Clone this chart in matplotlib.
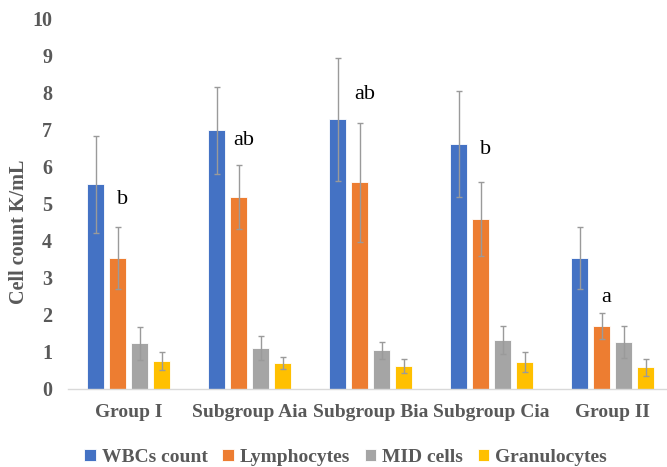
import matplotlib.pyplot as plt
import numpy as np

# groups and measured series (K/mL), with error bar half-widths
groups = ['Group I', 'Subgroup Aia', 'Subgroup Bia', 'Subgroup Cia', 'Group II']
series_names = ['WBCs count', 'Lymphocytes', 'MID cells', 'Granulocytes']
colors = ['#4472C4', '#ED7D31', '#A5A5A5', '#FFC000']

wbc = [5.52, 6.98, 7.28, 6.62, 3.53]
lymph = [3.53, 5.18, 5.58, 4.58, 1.69]
mid = [1.22, 1.09, 1.03, 1.31, 1.26]
gran = [0.75, 0.69, 0.62, 0.72, 0.57]

wbc_err = [1.31, 1.17, 1.66, 1.43, 0.84]
lymph_err = [0.83, 0.86, 1.61, 1.00, 0.35]
mid_err = [0.45, 0.33, 0.24, 0.38, 0.44]
gran_err = [0.24, 0.16, 0.19, 0.26, 0.24]

# significance letters, placed over the lymphocyte bars
letters = ['b', 'ab', 'ab', 'b', 'a']
letter_y = [5.1, 6.7, 7.95, 6.45, 2.45]

values = [wbc, lymph, mid, gran]
errors = [wbc_err, lymph_err, mid_err, gran_err]

text_color = '#595959'
serif = 'Liberation Serif'

fig = plt.figure(figsize=(6.67, 4.67), dpi=100)
ax = fig.add_axes([0.102, 0.168, 0.898, 0.792])

x = np.arange(len(groups))
step = 0.182
width = 0.14
for i in range(4):
    pos = x + (i - 1.5) * step
    ax.bar(pos, values[i], width, color=colors[i], edgecolor='white',
           linewidth=0.6, label=series_names[i], zorder=2)
    ax.errorbar(pos, values[i], yerr=errors[i], fmt='none', ecolor='#9a9a9a',
                elinewidth=1.0, capsize=2.5, capthick=1.0, zorder=3)

for i, lab in enumerate(letters):
    ax.text(x[i] - 0.5 * step + 0.04, letter_y[i], lab, ha='center', va='center',
            fontsize=16, family=serif, color='black')

ax.set_xlim(-0.5, 4.45)
ax.set_ylim(0, 10)
ax.set_yticks(range(0, 11))
ax.set_xticks(x)
ax.set_xticklabels(groups)
ax.tick_params(axis='both', length=0, colors=text_color, labelsize=14)
ax.tick_params(axis='x', pad=11)
ax.tick_params(axis='y', pad=11.5, labelsize=14.5)
for lbl in ax.get_xticklabels() + ax.get_yticklabels():
    lbl.set_family(serif)
    lbl.set_fontweight('bold')

ax.set_ylabel('Cell count K/mL', fontsize=14.5, family=serif, fontweight='bold',
              color=text_color)
ax.yaxis.set_label_coords(-0.066, 0.423)

for s in ['top', 'right', 'left']:
    ax.spines[s].set_visible(False)
ax.spines['bottom'].set_color('#d9d9d9')
ax.spines['bottom'].set_linewidth(1.0)

handles, labs = ax.get_legend_handles_labels()
leg = fig.legend(handles, labs, loc='center', bbox_to_anchor=(0.518, 0.02),
                 ncol=4, frameon=False, handlelength=0.6, handleheight=0.6,
                 handletextpad=0.3, columnspacing=0.75,
                 prop={'family': serif, 'weight': 'bold', 'size': 14})
for t in leg.get_texts():
    t.set_color(text_color)

fig.savefig('out.png', dpi=100)
